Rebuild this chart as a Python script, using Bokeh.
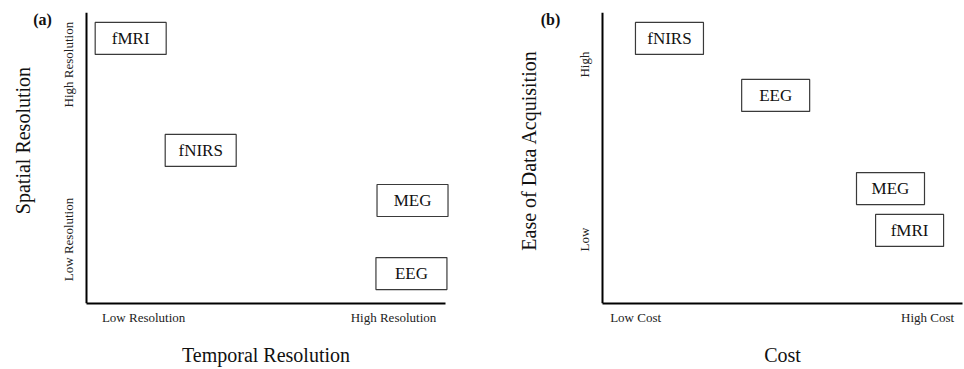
from bokeh.plotting import figure
from bokeh.layouts import row
from bokeh.models import FixedTicker, Range1d, Label, ColumnDataSource, LinearAxis
from bokeh.core.properties import value
from bokeh.embed import file_html
from bokeh.resources import INLINE

SERIF = "Liberation Serif"

# ---- Panel (a): temporal vs spatial resolution ----
techniques_a = ["fMRI", "fNIRS", "MEG", "EEG"]
temporal_res = [12.3, 31.8, 90.8, 90.5]
spatial_res = [91.1, 52.6, 35.4, 10.3]
xticks_a = [15.9, 85.5]
xtick_labels_a = ["Low Resolution", "High Resolution"]
yticks_a = [22.0, 82.1]
ytick_labels_a = ["Low Resolution", "High Resolution"]

# ---- Panel (b): cost vs ease of data acquisition ----
techniques_b = ["fNIRS", "EEG", "MEG", "fMRI"]
cost = [18.6, 48.1, 80.0, 85.3]
ease = [91.1, 71.5, 39.5, 25.1]
xticks_b = [9.2, 90.3]
xtick_labels_b = ["Low Cost", "High Cost"]
yticks_b = [22.0, 82.1]
ytick_labels_b = ["Low", "High"]


def title_axis(pos, text, orientation, standoff, fixed):
    return LinearAxis(ticker=FixedTicker(ticks=[pos]),
                      major_label_overrides={pos: text},
                      fixed_location=0 if fixed else None, axis_line_color=None,
                      major_tick_line_color=None, minor_tick_line_color=None,
                      major_tick_in=0, major_tick_out=0,
                      major_label_standoff=standoff,
                      major_label_orientation=orientation,
                      major_label_text_font=SERIF,
                      major_label_text_font_size="20px",
                      major_label_text_color="#111111")


def make_panel(names, xs, ys, xticks, xlabels, yticks, ylabels, xtitle, ytitle,
               tag, width, border_right, x_start, x_end, box_w,
               y_tick_standoff, ytitle_pos, ytitle_standoff, tag_x):
    p = figure(width=width, height=369, output_backend="svg", toolbar_location=None,
               x_range=Range1d(x_start, x_end), y_range=Range1d(0, 100),
               min_border_left=0, min_border_right=border_right,
               min_border_top=12, min_border_bottom=66)
    p.outline_line_color = None
    p.grid.grid_line_color = None
    p.background_fill_color = "white"
    p.border_fill_color = "white"

    src = ColumnDataSource(dict(x=xs, y=ys, name=names))
    p.rect(x="x", y="y", width=box_w, height=32, width_units="screen",
           height_units="screen", source=src, fill_color="white",
           line_color="#3a3a3a", line_width=1.2)
    p.text(x="x", y="y", text="name", source=src, text_align="center",
           text_baseline="middle", text_font=value(SERIF),
           text_font_size="17px", text_color="#111111")

    for ax in (p.xaxis[0], p.yaxis[0]):
        ax.axis_line_color = "black"
        ax.axis_line_width = 2
        ax.major_tick_line_color = None
        ax.minor_tick_line_color = None
        ax.major_tick_out = 0
        ax.major_tick_in = 0
        ax.major_label_text_font = SERIF
        ax.major_label_text_font_size = "13px"
        ax.major_label_text_color = "#222222"

    xa = p.xaxis[0]
    xa.ticker = FixedTicker(ticks=xticks)
    xa.major_label_overrides = {t: l for t, l in zip(xticks, xlabels)}
    xa.bounds = (0, 100)
    xa.major_label_standoff = 6

    ya = p.yaxis[0]
    ya.ticker = FixedTicker(ticks=yticks)
    ya.major_label_overrides = {t: l for t, l in zip(yticks, ylabels)}
    ya.fixed_location = 0
    ya.major_label_orientation = "vertical"
    ya.major_label_standoff = y_tick_standoff

    # axis titles, centred where the reference puts them
    p.add_layout(title_axis(sum(xa.bounds) / 2, xtitle, "horizontal", 16, False), "below")
    p.add_layout(title_axis(ytitle_pos, ytitle, "vertical", ytitle_standoff, True), "left")

    p.add_layout(Label(x=tag_x, y=284, x_units="screen", y_units="screen",
                       text=tag, text_font=SERIF, text_font_style="bold",
                       text_font_size="16px", text_align="center",
                       text_baseline="middle", text_color="#111111"))
    return p


pa = make_panel(techniques_a, temporal_res, spatial_res, xticks_a, xtick_labels_a,
                yticks_a, ytick_labels_a, "Temporal Resolution", "Spatial Resolution",
                "(a)", 480, 31, -23.96, 101.1, 71, 11, 56.0, 53, 42)
pb = make_panel(techniques_b, cost, ease, xticks_b, xtick_labels_b,
                yticks_b, ytick_labels_b, "Cost", "Ease of Data Acquisition",
                "(b)", 484, 2, -33.89, 100, 68, 10, 52.6, 62, 70)

layout = row(pa, pb)
open("out.html", "w").write(file_html(layout, INLINE))
